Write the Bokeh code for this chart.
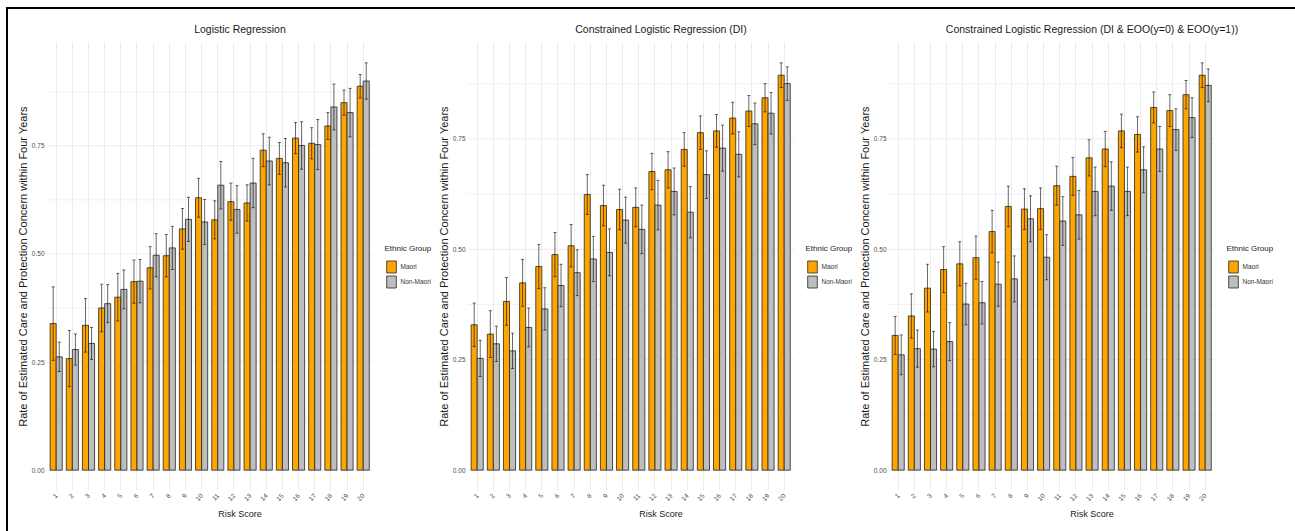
import math

from bokeh.embed import file_html
from bokeh.layouts import row
from bokeh.models import (ColumnDataSource, FixedTicker, Legend, LegendItem,
                          LinearAxis, Range1d, TeeHead, Whisker)
from bokeh.plotting import figure
from bokeh.resources import INLINE

# ---- data -------------------------------------------------------------
risk_scores = list(range(1, 21))
risk_labels = [str(s) for s in risk_scores]
group_names = ["Maori", "Non-Maori"]
y_ticks = [0.0, 0.25, 0.5, 0.75]
y_tick_labels = ["0.00", "0.25", "0.50", "0.75"]
y_minor_ticks = [0.125, 0.375, 0.625, 0.875]

panel_titles = [
    "Logistic Regression",
    "Constrained Logistic Regression (DI)",
    "Constrained Logistic Regression (DI & EOO(y=0) & EOO(y=1))",
]

# Logistic regression: rate and 95% CI half-width by risk score
lr_maori = [0.339, 0.258, 0.335, 0.375, 0.400, 0.436, 0.468, 0.496, 0.558, 0.630,
            0.579, 0.621, 0.618, 0.740, 0.721, 0.768, 0.756, 0.796, 0.850, 0.888]
lr_maori_ci = [0.085, 0.065, 0.062, 0.055, 0.055, 0.050, 0.049, 0.049, 0.047, 0.045,
               0.044, 0.043, 0.042, 0.038, 0.037, 0.036, 0.036, 0.031, 0.029, 0.027]
lr_other = [0.262, 0.279, 0.293, 0.385, 0.418, 0.437, 0.497, 0.514, 0.580, 0.574,
            0.659, 0.603, 0.664, 0.715, 0.711, 0.751, 0.753, 0.840, 0.827, 0.900]
lr_other_ci = [0.034, 0.036, 0.037, 0.044, 0.045, 0.050, 0.050, 0.050, 0.051, 0.052,
               0.055, 0.055, 0.057, 0.055, 0.056, 0.055, 0.058, 0.053, 0.056, 0.042]

# Constrained logistic regression (DI)
di_maori = [0.329, 0.308, 0.382, 0.424, 0.461, 0.488, 0.508, 0.624, 0.599, 0.590,
            0.595, 0.676, 0.680, 0.726, 0.764, 0.768, 0.797, 0.813, 0.843, 0.894]
di_maori_ci = [0.049, 0.053, 0.054, 0.053, 0.050, 0.050, 0.048, 0.045, 0.046, 0.046,
               0.044, 0.041, 0.041, 0.038, 0.038, 0.037, 0.036, 0.035, 0.032, 0.028]
di_other = [0.253, 0.286, 0.270, 0.323, 0.365, 0.418, 0.447, 0.478, 0.493, 0.566,
            0.545, 0.600, 0.631, 0.584, 0.669, 0.729, 0.715, 0.784, 0.808, 0.875]
di_other_ci = [0.041, 0.040, 0.040, 0.044, 0.048, 0.048, 0.052, 0.051, 0.053, 0.052,
               0.055, 0.056, 0.053, 0.058, 0.054, 0.052, 0.051, 0.047, 0.047, 0.038]

# Constrained logistic regression (DI & EOO(y=0) & EOO(y=1))
eoo_maori = [0.305, 0.349, 0.412, 0.454, 0.467, 0.481, 0.540, 0.597, 0.591, 0.592,
             0.644, 0.665, 0.707, 0.727, 0.768, 0.760, 0.821, 0.814, 0.850, 0.894]
eoo_maori_ci = [0.043, 0.050, 0.054, 0.052, 0.050, 0.049, 0.048, 0.046, 0.046, 0.047,
                0.044, 0.043, 0.041, 0.040, 0.038, 0.040, 0.035, 0.036, 0.032, 0.028]
eoo_other = [0.261, 0.275, 0.274, 0.291, 0.376, 0.379, 0.421, 0.433, 0.569, 0.482,
             0.564, 0.578, 0.631, 0.643, 0.631, 0.680, 0.727, 0.771, 0.798, 0.871]
eoo_other_ci = [0.045, 0.042, 0.040, 0.043, 0.047, 0.048, 0.050, 0.052, 0.052, 0.051,
                0.055, 0.055, 0.055, 0.055, 0.055, 0.052, 0.051, 0.047, 0.045, 0.037]

# ---- styling ----------------------------------------------------------
FONT = "Liberation Sans"
FILL = {"Maori": "#FFA500", "Non-Maori": "#BEBEBE"}
GRID = "#EBEBEB"
MINOR_GRID = "#F2F2F2"
BAR_W = 0.375           # each bar; the pair covers 0.75 of a category
Y_TITLE = "Rate of Estimated Care and Protection Concern within Four Years"

FIG_H = 522
BORDER_T, BORDER_B = 33, 41
PLOT_W = 326.4                      # px taken by the bars' own x extent
X_LO, X_HI = 0.4, 20.6              # bar area in data units
KEY_X, KEY_Y = 338.5, 201.5         # key position from the frame's lower left


def make_panel(title, maori, maori_ci, other, other_ci, fig_w, border_l):
    top = max(max(v + e for v, e in zip(maori, maori_ci)),
              max(v + e for v, e in zip(other, other_ci)))
    # the frame runs to the figure's right edge so the key can sit beside the bars
    frame_w = fig_w - border_l
    x_end = X_LO + (X_HI - X_LO) * frame_w / PLOT_W
    p = figure(width=fig_w, height=FIG_H,
               x_range=Range1d(X_LO, x_end),
               y_range=Range1d(-0.05 * top, 1.05 * top),
               output_backend="svg", toolbar_location=None,
               min_border_left=border_l, min_border_right=0,
               min_border_top=BORDER_T, min_border_bottom=BORDER_B)
    p.outline_line_color = None
    p.background_fill_color = "white"
    p.border_fill_color = "white"

    # horizontal guides limited to the bar area
    for ticks, color in ((y_minor_ticks, MINOR_GRID), (y_ticks, GRID)):
        p.segment(x0=[X_LO] * len(ticks), x1=[X_HI] * len(ticks),
                  y0=ticks, y1=ticks, line_color=color, line_width=1)

    renderers = []
    for name, vals, ci, shift in (("Maori", maori, maori_ci, -BAR_W / 2),
                                  ("Non-Maori", other, other_ci, BAR_W / 2)):
        xs = [s + shift for s in risk_scores]
        src = ColumnDataSource(dict(
            x=xs, rate=vals,
            lower=[v - e for v, e in zip(vals, ci)],
            upper=[v + e for v, e in zip(vals, ci)],
        ))
        r = p.vbar(x="x", top="rate", bottom=0, width=BAR_W, source=src,
                   fill_color=FILL[name], line_color="#262626", line_width=0.8)
        renderers.append((name, r, src))

    for name, r, src in renderers:
        head_kw = dict(size=3, line_color="black", line_alpha=0.6, line_width=1)
        p.add_layout(Whisker(base="x", lower="lower", upper="upper", source=src,
                             dimension="height", level="overlay",
                             line_color="black", line_alpha=0.6, line_width=1,
                             lower_head=TeeHead(**head_kw),
                             upper_head=TeeHead(**head_kw)))

    # axes
    xa = p.xaxis[0]
    xa.bounds = (X_LO, X_HI)
    xa.ticker = FixedTicker(ticks=risk_scores)
    xa.major_label_overrides = {s: lab for s, lab in zip(risk_scores, risk_labels)}
    xa.major_label_orientation = math.pi / 4
    xa.axis_label = "Risk Score"

    ya = p.yaxis[0]
    ya.ticker = FixedTicker(ticks=y_ticks, minor_ticks=y_minor_ticks)
    ya.major_label_overrides = {t: lab for t, lab in zip(y_ticks, y_tick_labels)}
    ya.axis_label = Y_TITLE

    # panel heading, centred over the bar area
    head = LinearAxis(bounds=(X_LO, X_HI), ticker=FixedTicker(ticks=[]),
                      axis_label=title)
    p.add_layout(head, "above")

    for ax in (xa, ya, head):
        ax.axis_line_color = None
        ax.major_tick_line_color = None
        ax.minor_tick_line_color = None
        ax.major_tick_out = 0
        ax.major_tick_in = 0
        ax.minor_tick_out = 0
        ax.minor_tick_in = 0
        ax.major_label_text_font = FONT
        ax.major_label_text_font_size = "6.5px"
        ax.major_label_text_color = "#4D4D4D"
        ax.axis_label_text_font = FONT
        ax.axis_label_text_font_style = "normal"
        ax.axis_label_text_color = "#1A1A1A"
    xa.major_label_standoff = 4
    xa.axis_label_standoff = 3
    xa.axis_label_text_font_size = "9px"
    ya.major_label_standoff = 2
    ya.axis_label_standoff = 0
    ya.axis_label_text_font_size = "11px"
    head.major_label_standoff = 0
    head.axis_label_standoff = 8
    head.axis_label_text_font_size = "10.5px"

    # grid
    p.xgrid.grid_line_color = GRID
    p.ygrid.grid_line_color = None

    legend = Legend(
        items=[LegendItem(label=name, renderers=[r]) for name, r, _ in renderers],
        title="Ethnic Group", location=(KEY_X, KEY_Y), orientation="vertical",
        title_text_font=FONT, title_text_font_size="8px",
        title_text_font_style="normal", title_text_color="#1A1A1A",
        title_standoff=6,
        label_text_font=FONT, label_text_font_size="6.5px",
        label_text_color="#333333", label_standoff=4,
        glyph_width=12, glyph_height=15, spacing=0, padding=0, margin=0,
        border_line_color=None, background_fill_alpha=0,
    )
    p.add_layout(legend)
    return p


panels = [
    make_panel(panel_titles[0], lr_maori, lr_maori_ci, lr_other, lr_other_ci,
               fig_w=425, border_l=38),
    make_panel(panel_titles[1], di_maori, di_maori_ci, di_other, di_other_ci,
               fig_w=421, border_l=34),
    make_panel(panel_titles[2], eoo_maori, eoo_maori_ci, eoo_other, eoo_other_ci,
               fig_w=441, border_l=34),
]

layout = row(*panels, margin=(7, 0, 0, 6),
             styles={"border-top": "2px solid black", "border-left": "2px solid black"})

with open("out.html", "w") as f:
    f.write(file_html(layout, INLINE))
